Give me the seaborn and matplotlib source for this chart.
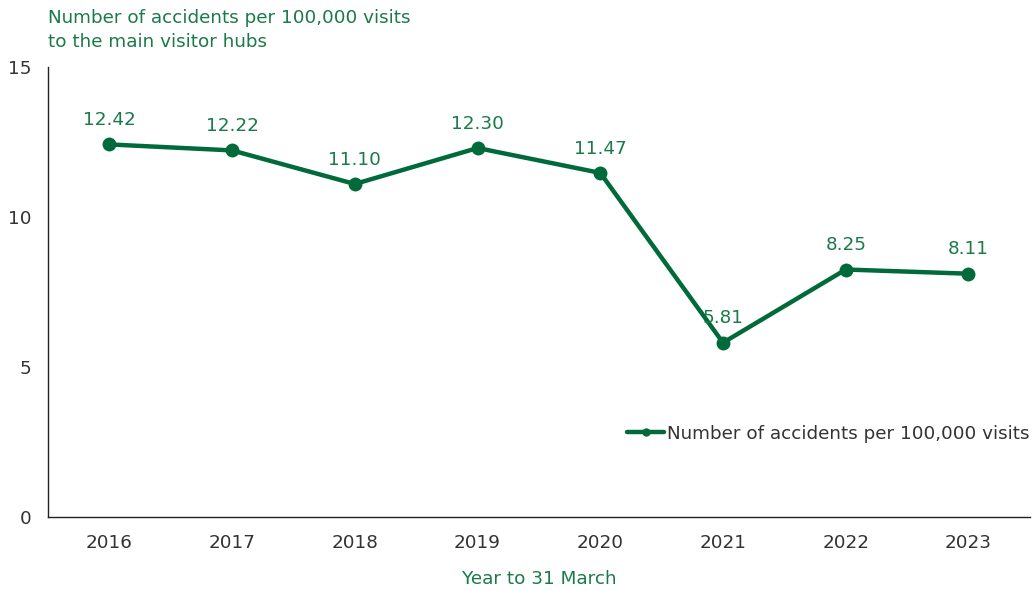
import matplotlib
matplotlib.use("Agg")
import matplotlib.pyplot as plt
import seaborn as sns
import pandas as pd

years = ["2016", "2017", "2018", "2019", "2020", "2021", "2022", "2023"]
rates = [12.42, 12.22, 11.10, 12.30, 11.47, 5.81, 8.25, 8.11]
series_name = "Number of accidents per 100,000 visits"

GREEN = "#006a3a"
TEXT_GREEN = "#1b7a4a"
GREY = "#333333"
FS = 13.2

sns.set_theme(style="white")
plt.rcParams["font.family"] = ["DejaVu Sans"]

df = pd.DataFrame({"year": years, "rate": rates, "series": series_name})

fig = plt.figure(figsize=(10.34, 5.91), dpi=100)
ax = fig.add_axes([0.0464, 0.1252, 0.9496, 0.7614])

sns.lineplot(data=df, x="year", y="rate", hue="series", palette=[GREEN],
             marker="o", markersize=10, linewidth=3.2, markeredgewidth=0,
             sort=False, ax=ax)

for i, v in enumerate(rates):
    ax.annotate(f"{v:.2f}", (i, v), xytext=(0, 11), textcoords="offset points",
                ha="center", va="bottom", color=TEXT_GREEN, fontsize=FS)

ax.set_ylim(0, 15)
ax.set_xlim(-0.5, len(years) - 0.5)
ax.set_yticks([0, 5, 10, 15])
ax.tick_params(axis="both", length=0, labelsize=FS, labelcolor=GREY)
ax.tick_params(axis="x", pad=12)
ax.tick_params(axis="y", pad=12)
ax.set_ylabel("")
ax.set_xlabel("Year to 31 March", color=TEXT_GREEN, fontsize=FS, labelpad=13)

for side in ["top", "right"]:
    ax.spines[side].set_visible(False)
for side in ["left", "bottom"]:
    ax.spines[side].set_color("#222222")
    ax.spines[side].set_linewidth(1.0)

fig.text(0.0464, 0.984, "Number of accidents per 100,000 visits\nto the main visitor hubs",
         ha="left", va="top", color=TEXT_GREEN, fontsize=FS, linespacing=1.4)

leg = ax.legend(loc="center right", bbox_to_anchor=(1.007, 0.185), frameon=False,
                fontsize=FS, handlelength=2.0, handletextpad=0.15, borderaxespad=0)
for t in leg.get_texts():
    t.set_color(GREY)
for h in leg.legend_handles:
    h.set_markersize(6)

fig.savefig("out.png", dpi=100)
